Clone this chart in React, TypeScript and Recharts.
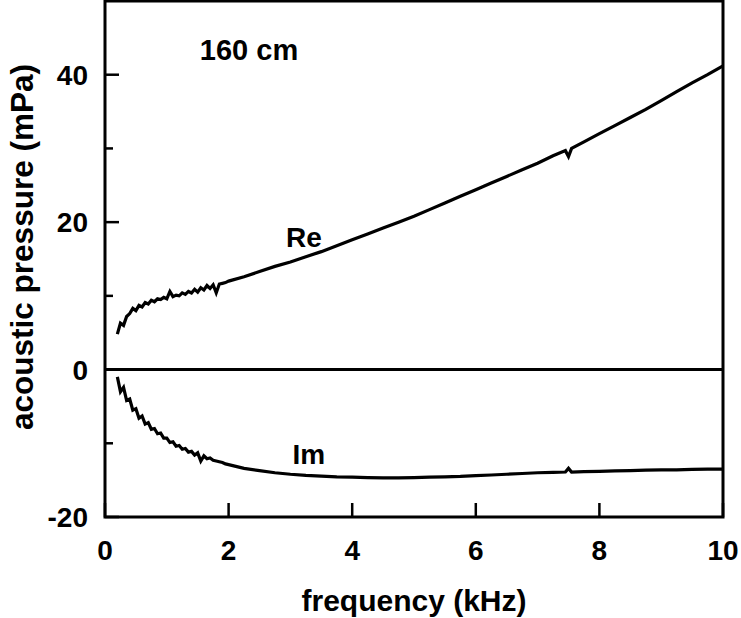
import React from 'react';
import { LineChart, Line, XAxis, YAxis, ReferenceArea, ReferenceLine, ReferenceDot } from 'recharts';

const freqLow = [0.2,0.25,0.3,0.35,0.4,0.45,0.5,0.55,0.6,0.65,0.7,0.75,0.8,0.85,0.9,0.95,1.0,1.05,1.1,1.15,1.2,1.25,1.3,1.35,1.4,1.45,1.5,1.55,1.6,1.65,1.7,1.75,1.8,1.85,1.9,1.95,2.0];
const freqHigh = [2.25,2.5,2.75,3,3.25,3.5,3.75,4,4.25,4.5,4.75,5,5.25,5.5,5.75,6,6.25,6.5,6.75,7,7.25,7.45,7.5,7.55,7.75,8,8.25,8.5,8.75,9,9.25,9.5,9.75,10];

const reLow = [4.8,6.3,6.0,7.2,7.6,8.3,8.0,8.7,8.5,9.1,8.9,9.4,9.2,9.6,9.5,9.8,9.6,10.6,9.9,10.1,10.0,10.4,10.2,10.6,10.4,10.9,10.5,11.1,10.8,11.4,11.0,11.5,10.4,11.6,11.7,11.8,12.0];
const reHigh = [12.6,13.3,14.0,14.6,15.3,16.0,16.8,17.6,18.4,19.2,20.0,20.8,21.7,22.6,23.5,24.4,25.3,26.2,27.1,28.0,29.0,29.7,28.9,30.0,30.9,32.0,33.1,34.2,35.3,36.5,37.7,38.9,40.0,41.2];

const imLow = [-1.0,-3.0,-2.4,-4.2,-4.0,-5.5,-5.3,-6.6,-6.3,-7.4,-7.2,-8.1,-8.0,-8.7,-8.6,-9.3,-9.3,-9.9,-9.8,-10.4,-10.3,-10.8,-10.7,-11.2,-11.1,-11.6,-11.3,-12.4,-11.7,-12.1,-12.0,-12.3,-12.4,-12.5,-12.6,-12.8,-12.9];
const imHigh = [-13.4,-13.7,-14.0,-14.2,-14.35,-14.45,-14.55,-14.6,-14.65,-14.7,-14.7,-14.65,-14.6,-14.55,-14.5,-14.4,-14.3,-14.2,-14.1,-14.0,-13.95,-13.9,-13.4,-13.9,-13.85,-13.8,-13.75,-13.7,-13.65,-13.6,-13.6,-13.55,-13.5,-13.5];

const xTicks = [0, 2, 4, 6, 8, 10];
const yTicks = [-20, -10, 0, 10, 20, 30, 40];
const yLabelled = [-20, 0, 20, 40];

const freq = [...freqLow, ...freqHigh];
const reVals = [...reLow, ...reHigh];
const imVals = [...imLow, ...imHigh];
const data = freq.map((f, i) => ({ f, re: reVals[i], im: imVals[i] }));

const FONT = '"Liberation Sans", Arial, sans-serif';

const YTick = (props: any) => {
  const { x, y, payload } = props;
  const v = payload.value;
  const major = yLabelled.includes(v);
  return (
    <g>
      <line x1={x} y1={y} x2={x + (major ? 14 : 8)} y2={y} stroke="#000" strokeWidth={2.5} />
      {major && (
        <text x={x - 17} y={y} dy="0.36em" textAnchor="end" fontFamily={FONT} fontWeight="bold" fontSize={28} fill="#000">
          {v}
        </text>
      )}
    </g>
  );
};

const XTick = (props: any) => {
  const { x, y, payload } = props;
  return (
    <g>
      <line x1={x} y1={y} x2={x} y2={y - 14} stroke="#000" strokeWidth={2.5} />
      <text x={x} y={y + 33} dy="0.36em" textAnchor="middle" fontFamily={FONT} fontWeight="bold" fontSize={28} fill="#000">
        {payload.value}
      </text>
    </g>
  );
};

const makeText = (txt: string, size: number) => (props: any) => {
  const vb = props.viewBox || {};
  const cx = vb.x + (vb.width || 0) / 2;
  const cy = vb.y + (vb.height || 0) / 2;
  return (
    <text x={cx} y={cy} dy="0.36em" textAnchor="middle" fontFamily={FONT} fontWeight="bold" fontSize={size} fill="#000">
      {txt}
    </text>
  );
};

const YTitle = () => (
  <text x={22} y={247} dy="0.36em" textAnchor="middle" transform="rotate(-90 22 247)" fontFamily={FONT} fontWeight="bold" fontSize={31.5} fill="#000">
    acoustic pressure (mPa)
  </text>
);

const XTitle = () => (
  <text x={414} y={600} dy="0.36em" textAnchor="middle" fontFamily={FONT} fontWeight="bold" fontSize={30} fill="#000">
    frequency (kHz)
  </text>
);

export default function App() {
  return (
    <div style={{ position: 'absolute', left: 0, top: 0, width: 741, height: 618, background: '#fff' }}>
      <LineChart width={741} height={618} data={data} margin={{ top: 1, right: 18, bottom: 0, left: 0 }}>
        <XAxis
          dataKey="f"
          type="number"
          domain={[0, 10]}
          ticks={xTicks}
          axisLine={false}
          tickLine={false}
          tickSize={0}
          tickMargin={0}
          height={101}
          tick={<XTick />}
          label={<XTitle />}
          interval={0}
        />
        <YAxis
          type="number"
          domain={[-20, 50]}
          ticks={yTicks}
          axisLine={false}
          tickLine={false}
          tickSize={0}
          tickMargin={0}
          width={105}
          tick={<YTick />}
          label={<YTitle />}
          interval={0}
        />
        <ReferenceArea x1={0} x2={10} y1={-20} y2={50} fill="none" fillOpacity={0} stroke="#000" strokeWidth={3} />
        <ReferenceLine y={0} stroke="#000" strokeWidth={3} />
        <Line dataKey="re" type="linear" stroke="#000" strokeWidth={3.2} dot={false} isAnimationActive={false} />
        <Line dataKey="im" type="linear" stroke="#000" strokeWidth={3.2} dot={false} isAnimationActive={false} />
        <ReferenceDot x={2.33} y={43.4} r={0} fill="none" stroke="none" label={makeText('160 cm', 29)} />
        <ReferenceDot x={3.22} y={18.0} r={0} fill="none" stroke="none" label={makeText('Re', 28)} />
        <ReferenceDot x={3.3} y={-11.5} r={0} fill="none" stroke="none" label={makeText('Im', 28)} />
      </LineChart>
    </div>
  );
}
